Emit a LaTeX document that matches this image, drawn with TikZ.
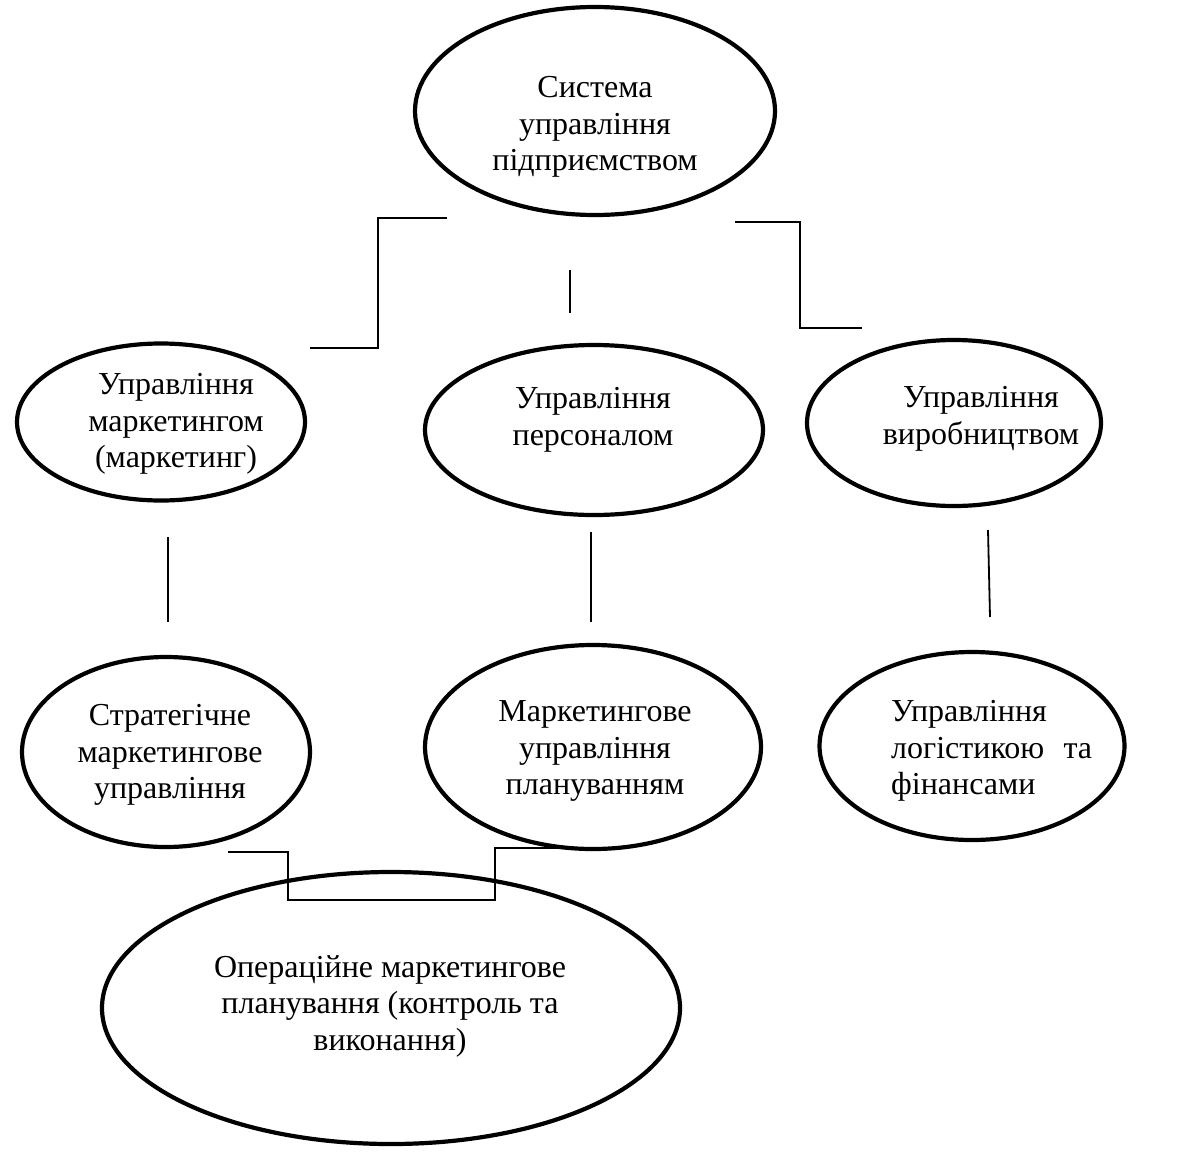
\documentclass[tikz,border=0pt]{standalone}
\usepackage{fontspec}
\setmainfont{Liberation Serif}
\usetikzlibrary{shapes.geometric}
\begin{document}
\begin{tikzpicture}[x=1pt,y=-1pt,
  oval/.style={draw, ellipse, line width=4.2pt, inner sep=0pt},
  txt/.style={align=center, inner sep=0pt, font=\fontsize{32}{36.5}\selectfont},
  link/.style={draw, line width=1.8pt}]
\useasboundingbox (0,0) rectangle (1177,1151);
% ellipses
\node[oval, minimum width=360, minimum height=208] (sys)   at (595,111) {};
\node[oval, minimum width=288, minimum height=157] (mkt)   at (161,422) {};
\node[oval, minimum width=338, minimum height=170] (pers)  at (594,430) {};
\node[oval, minimum width=294, minimum height=166] (prod)  at (954,423) {};
\node[oval, minimum width=288, minimum height=190] (strat) at (166,752) {};
\node[oval, minimum width=336, minimum height=204] (plan)  at (593,747) {};
\node[oval, minimum width=305, minimum height=188] (logi)  at (972,746) {};
\node[oval, minimum width=578, minimum height=272] (oper)  at (391,1008) {};
% texts
\node[txt] (tsys)   at (595,127) {Система\\управління\\підприємством};
\node[txt] (tmkt)   at (176,424) {Управління\\маркетингом\\(маркетинг)};
\node[txt] (tpers)  at (593,420) {Управління\\персоналом};
\node[txt] (tprod)  at (981,419) {Управління\\виробництвом};
\node[txt] (tstrat) at (170,755) {Стратегічне\\маркетингове\\управління};
\node[txt] (tplan)  at (595,751) {Маркетингове\\управління\\плануванням};
\node[txt, align=left, anchor=west] (tlogi) at (891,751) {Управління\\логістикою\hspace{0.6em}та\\фінансами};
\node[txt] (toper)  at (390,1006) {Операційне маркетингове\\планування (контроль та\\виконання)};
% connector coordinates
\coordinate (l1) at (447,218);
\coordinate (lk) at (378,348);
\coordinate (l2) at (310,348);
\coordinate (r1) at (735,222);
\coordinate (rk) at (800,328);
\coordinate (r2) at (862,328);
\coordinate (m1) at (570,270);
\coordinate (m2) at (570,313);
\coordinate (v1a) at (168,537);
\coordinate (v1b) at (168,622);
\coordinate (v2a) at (591,532);
\coordinate (v2b) at (591,622);
\coordinate (v3a) at (988,530);
\coordinate (v3b) at (990,617);
\coordinate (b1) at (228,852);
\coordinate (bk1) at (288,900);
\coordinate (bk2) at (495,848);
\coordinate (b2) at (590,848);
% connectors
\draw[link] (l1) -| (lk) -- (l2);
\draw[link] (r1) -| (rk) -- (r2);
\draw[link] (m1) -- (m2);
\draw[link] (v1a) -- (v1b);
\draw[link] (v2a) -- (v2b);
\draw[link] (v3a) -- (v3b);
\draw[link] (b1) -| (bk1) -| (bk2) -- (b2);
\end{tikzpicture}
\end{document}
